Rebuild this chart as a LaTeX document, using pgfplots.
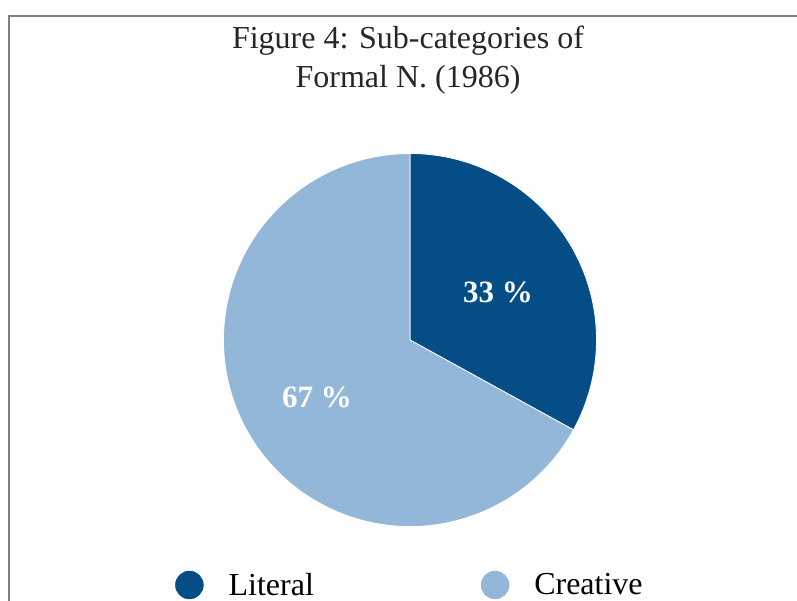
\documentclass[border=0pt]{standalone}
\usepackage{pgfplots}
\pgfplotsset{compat=1.18}
\usepackage{pgfplotstable}
\usepackage{fontspec}
\setmainfont{Liberation Serif}

\definecolor{litblue}{RGB}{5,77,135}
\definecolor{creblue}{RGB}{147,183,217}
\definecolor{framegray}{RGB}{128,128,128}

% shares of the two sub-categories, in percent
\pgfplotstableread{
cat      share
Literal  33
Creative 67
}\piedata

\pgfplotstablegetelem{0}{share}\of\piedata
\let\shareA\pgfplotsretval
\pgfplotstablegetelem{1}{share}\of\piedata
\let\shareB\pgfplotsretval
\pgfmathsetmacro\angA{90-3.6*\shareA}
\pgfmathsetmacro\angB{\angA-3.6*\shareB}
\pgfmathsetmacro\midA{90-1.8*\shareA}
\pgfmathsetmacro\midB{\angA-1.8*\shareB}

\def\R{186.5bp}

\begin{document}
\begin{tikzpicture}
\begin{axis}[
    scale only axis,
    width=797bp, height=601bp,
    xmin=0, xmax=797, ymin=0, ymax=601,
    y dir=reverse,
    hide axis,
    clip=false,
    legend columns=2,
    legend style={
        at={(axis cs:175,585)}, anchor=west,
        draw=none, fill=none, inner sep=0pt,
        nodes={inner sep=0pt},
        font=\fontsize{32bp}{38bp}\selectfont,
        /tikz/every odd column/.append style={column sep=25bp},
        /tikz/every even column/.append style={column sep=167bp},
    },
    legend image code/.code={\fill[#1] (0bp,0bp) circle (14bp);},
]

% frame (top and left edges)
\draw[framegray, line width=2.5bp] (axis cs:8,16) -- (axis cs:797,16);
\draw[framegray, line width=1.7bp] (axis cs:9,15) -- (axis cs:9,601);

% title
\node[anchor=base, font=\fontsize{32bp}{39bp}\selectfont, text=black!85]
    at (axis cs:408,49) {Figure 4: Sub-categories of};
\node[anchor=base, font=\fontsize{32bp}{39bp}\selectfont, text=black!85]
    at (axis cs:408,88) {Formal N. (1986)};

% slices
\fill[litblue, draw=white, line width=0.8bp] (axis cs:410,340) -- ++(90:\R)
    arc[start angle=90, end angle=\angA, radius=\R] -- cycle;
\fill[creblue, draw=white, line width=0.8bp] (axis cs:410,340) -- ++(\angA:\R)
    arc[start angle=\angA, end angle=\angB, radius=\R] -- cycle;

% slice labels
\node[anchor=base, text=white, font=\fontsize{31bp}{37bp}\selectfont\bfseries]
    at (axis cs:498,302) {\shareA\ \%};
\node[anchor=base, text=white, font=\fontsize{31bp}{37bp}\selectfont\bfseries]
    at (axis cs:317,407) {\shareB\ \%};

\addlegendimage{litblue}
\addlegendentry{Literal}
\addlegendimage{creblue}
\addlegendentry{Creative}

\end{axis}
\pgfresetboundingbox
\useasboundingbox (current axis.south west) rectangle (current axis.north east);
\end{tikzpicture}
\end{document}
